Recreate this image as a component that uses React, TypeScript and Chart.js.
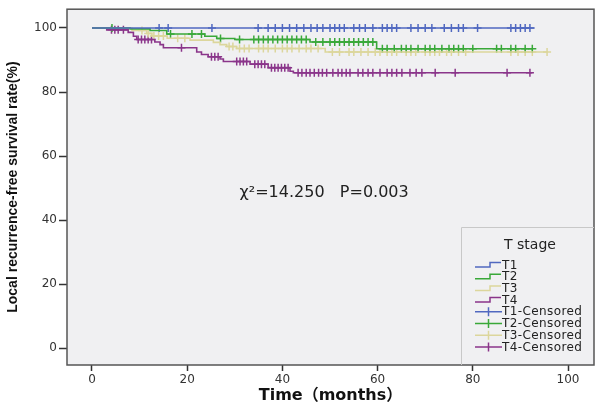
import React, { useEffect, useRef } from 'react';
import { Chart, registerables } from 'chart.js';

Chart.register(...registerables);

// ---- data ----
const xTickValues = [0, 20, 40, 60, 80, 100];
const yTickValues = [0, 20, 40, 60, 80, 100];
const groupNames = ['T1', 'T2', 'T3', 'T4'];
const legendTitle = 'T stage';
const statText = 'χ²=14.250   P=0.003';
const xTitle = 'Time（months）';
const yTitle = 'Local recurrence-free survival rate(%)';

// step times (months) and survival (%) after each step
const t1Times = [0, 93];
const t1Surv = [100, 100];
const t1Censored = [14.1, 16.0, 25.2, 34.9, 37, 38.5, 40, 41.5, 43, 44.5, 46, 47.3, 48.5, 50, 51, 52, 53, 55, 56.2, 57.4, 59, 61, 62, 63, 64, 67, 68.5, 70, 71.4, 74, 75.5, 77, 78, 81, 88, 89, 90, 91, 92];

const t2Times = [0, 8.0, 12.2, 15.7, 23.7, 26.2, 30.0, 45.8, 59.8, 92.5];
const t2Surv = [100, 99.7, 99.2, 98.1, 97.4, 96.7, 96.4, 95.6, 93.5, 93.5];
const t2Censored = [4.2, 16.5, 21, 23, 27, 31, 34, 35, 36, 37, 38, 39, 40, 41, 42, 43, 44, 45, 47, 48.5, 50, 51, 52, 53, 54, 55, 56, 57, 58, 59, 61, 62, 63.5, 65, 66, 67, 68.5, 70, 71, 72, 73.5, 75, 76, 77, 78, 80, 85, 86, 88, 89, 91, 92.5];

const t3Times = [0, 8.4, 11.5, 12.6, 15.8, 20.6, 25.5, 26.9, 28.3, 30.4, 49.0, 95.6];
const t3Surv = [100, 99.2, 98.3, 97.5, 96.8, 96.2, 95.5, 94.8, 94.2, 93.6, 92.5, 92.5];
const t3Censored = [10.5, 11.8, 13, 14, 15, 18, 19.5, 28.8, 29.6, 31, 32, 33, 35, 36, 37, 38.5, 40, 41, 42, 43.5, 45, 46, 47.5, 50.5, 52, 54, 55, 56.5, 58, 59.5, 60.5, 62, 63, 64, 66, 67, 68, 70, 71, 72, 73, 74.5, 75.5, 77, 78.5, 88, 89.5, 91, 92.5, 95.6];

const t4Times = [0, 3.1, 7.6, 8.7, 9.4, 13.2, 14.3, 15.0, 22.0, 23.0, 24.4, 26.9, 27.6, 33.2, 37.0, 41.6, 42.3, 92.5];
const t4Surv = [100, 99.4, 98.6, 97.4, 96.4, 95.6, 94.8, 93.8, 92.5, 91.7, 91.0, 90.3, 89.5, 88.7, 87.6, 86.5, 86.0, 86.0];
const t4Censored = [4.1, 4.8, 5.5, 6.6, 9.7, 10.4, 11.1, 11.8, 12.5, 18.8, 25.1, 25.8, 26.5, 30.4, 31.1, 31.8, 32.5, 34.2, 34.9, 35.6, 36.3, 37.7, 38.4, 39.1, 39.8, 40.5, 41.2, 43.3, 44.1, 45, 45.8, 46.7, 47.6, 48.4, 49.3, 50.6, 51.7, 52.5, 53.4, 54.2, 55.9, 56.9, 58.0, 59, 60.5, 62, 63, 64, 65.1, 66.8, 68.1, 69.3, 72.1, 76.3, 87.2, 92.0];

const groupColors = ['#5068c0', '#39a839', '#dcd69c', '#8a358a'];

const groupTimes = [t1Times, t2Times, t3Times, t4Times];
const groupSurv = [t1Surv, t2Surv, t3Surv, t4Surv];
const groupCensored = [t1Censored, t2Censored, t3Censored, t4Censored];

function survivalAt(times: number[], surv: number[], t: number): number {
  let v = surv[0];
  for (let i = 0; i < times.length; i++) {
    if (times[i] <= t) v = surv[i];
  }
  return v;
}

const tickFont = { family: "'DejaVu Sans', sans-serif", size: 12 };

const decorPlugin = {
  id: 'decor',
  beforeDraw(chart: any) {
    const { ctx, chartArea: a } = chart;
    ctx.save();
    ctx.fillStyle = '#f0f0f2';
    ctx.fillRect(a.left, a.top, a.right - a.left, a.bottom - a.top);
    ctx.restore();
  },
  afterDraw(chart: any) {
    const { ctx, chartArea: a, scales } = chart;
    ctx.save();
    // border
    ctx.strokeStyle = '#555';
    ctx.lineWidth = 1.5;
    ctx.strokeRect(a.left, a.top, a.right - a.left, a.bottom - a.top);

    // statistic text
    ctx.fillStyle = '#222';
    ctx.font = "16px 'DejaVu Sans', sans-serif";
    ctx.textBaseline = 'middle';
    ctx.textAlign = 'left';
    ctx.fillText(statText, scales.x.getPixelForValue(31), scales.y.getPixelForValue(48.6));

    // legend
    const lx = a.right - 133;
    const ly = a.bottom - 138;
    ctx.strokeStyle = '#c8c8c8';
    ctx.lineWidth = 1;
    ctx.beginPath();
    ctx.moveTo(lx + 0.5, a.bottom);
    ctx.lineTo(lx + 0.5, ly + 0.5);
    ctx.lineTo(a.right, ly + 0.5);
    ctx.stroke();

    ctx.fillStyle = '#222';
    ctx.font = "14px 'DejaVu Sans', sans-serif";
    ctx.textAlign = 'center';
    ctx.fillText(legendTitle, lx + 69, ly + 18);

    ctx.font = "12px 'DejaVu Sans', sans-serif";
    (ctx as any).letterSpacing = '0.4px';
    ctx.textAlign = 'left';
    const sx = lx + 14;
    const labels = [...groupNames, ...groupNames.map((g) => g + '-Censored')];
    labels.forEach((lab, i) => {
      const yy = ly + 38 + i * 11.7;
      const col = groupColors[i % 4];
      ctx.strokeStyle = col;
      ctx.lineWidth = 1.5;
      ctx.beginPath();
      if (i < 4) {
        ctx.moveTo(sx, yy + 2);
        ctx.lineTo(sx + 15, yy + 2);
        ctx.lineTo(sx + 15, yy - 2.5);
        ctx.lineTo(sx + 26, yy - 2.5);
      } else {
        ctx.moveTo(sx, yy);
        ctx.lineTo(sx + 27, yy);
        ctx.moveTo(sx + 13.5, yy - 4.5);
        ctx.lineTo(sx + 13.5, yy + 4.5);
      }
      ctx.stroke();
      ctx.fillStyle = '#222';
      ctx.fillText(lab, sx + 27, yy + 0.5);
    });
    ctx.restore();
  },
};

export default function App() {
  const ref = useRef<HTMLCanvasElement>(null);
  useEffect(() => {
    document.body.style.margin = '0';
    const datasets: any[] = [];
    groupNames.forEach((g, i) => {
      datasets.push({
        label: g,
        data: groupTimes[i].map((t, j) => ({ x: t, y: groupSurv[i][j] })),
        showLine: true,
        stepped: true,
        borderColor: groupColors[i],
        backgroundColor: groupColors[i],
        borderWidth: 1.6,
        pointRadius: 0,
        fill: false,
      });
    });
    groupNames.forEach((g, i) => {
      datasets.push({
        label: g + '-Censored',
        data: groupCensored[i].map((t) => ({ x: t, y: survivalAt(groupTimes[i], groupSurv[i], t) })),
        showLine: false,
        pointStyle: 'cross',
        pointRadius: 4,
        borderWidth: 1.5,
        borderColor: groupColors[i],
        backgroundColor: groupColors[i],
      });
    });
    const chart = new Chart(ref.current as HTMLCanvasElement, {
      type: 'scatter',
      data: { datasets },
      plugins: [decorPlugin],
      options: {
        animation: false,
        responsive: false,
        maintainAspectRatio: false,
        layout: { padding: { top: 4, right: 6, left: 0, bottom: 0 } },
        plugins: { legend: { display: false }, tooltip: { enabled: false } },
        scales: {
          x: {
            type: 'linear',
            min: -5.25,
            max: 105.46,
            afterFit: (s: any) => { s.height = 43; },
            afterBuildTicks: (s: any) => { s.ticks = xTickValues.map((v) => ({ value: v })); },
            grid: { drawOnChartArea: false, tickLength: 6, color: '#333', tickWidth: 1.5 },
            border: { display: false },
            ticks: { padding: 2, font: tickFont, color: '#333', maxRotation: 0, autoSkip: false },
            title: {
              display: true,
              text: xTitle,
              color: '#111',
              font: { family: "'DejaVu Sans', 'Noto Sans CJK SC', sans-serif", size: 16, weight: 'bold' },
              padding: { top: 0, bottom: 3 },
            },
          },
          y: {
            type: 'linear',
            min: -5.23,
            max: 105.85,
            afterFit: (s: any) => { s.width = 67; },
            afterBuildTicks: (s: any) => { s.ticks = yTickValues.map((v) => ({ value: v })); },
            grid: { drawOnChartArea: false, tickLength: 8, color: '#333', tickWidth: 1.5 },
            border: { display: false },
            ticks: { padding: 2, font: tickFont, color: '#333', autoSkip: false },
            title: {
              display: true,
              text: yTitle,
              color: '#111',
              font: { family: "'Liberation Sans Narrow', 'Arial Narrow', sans-serif", size: 14, weight: 'bold' },
              padding: { top: 5, bottom: 0 },
            },
          },
        },
      } as any,
    });
    return () => chart.destroy();
  }, []);
  return <canvas ref={ref} width={600} height={408} style={{ display: 'block' }} />;
}
